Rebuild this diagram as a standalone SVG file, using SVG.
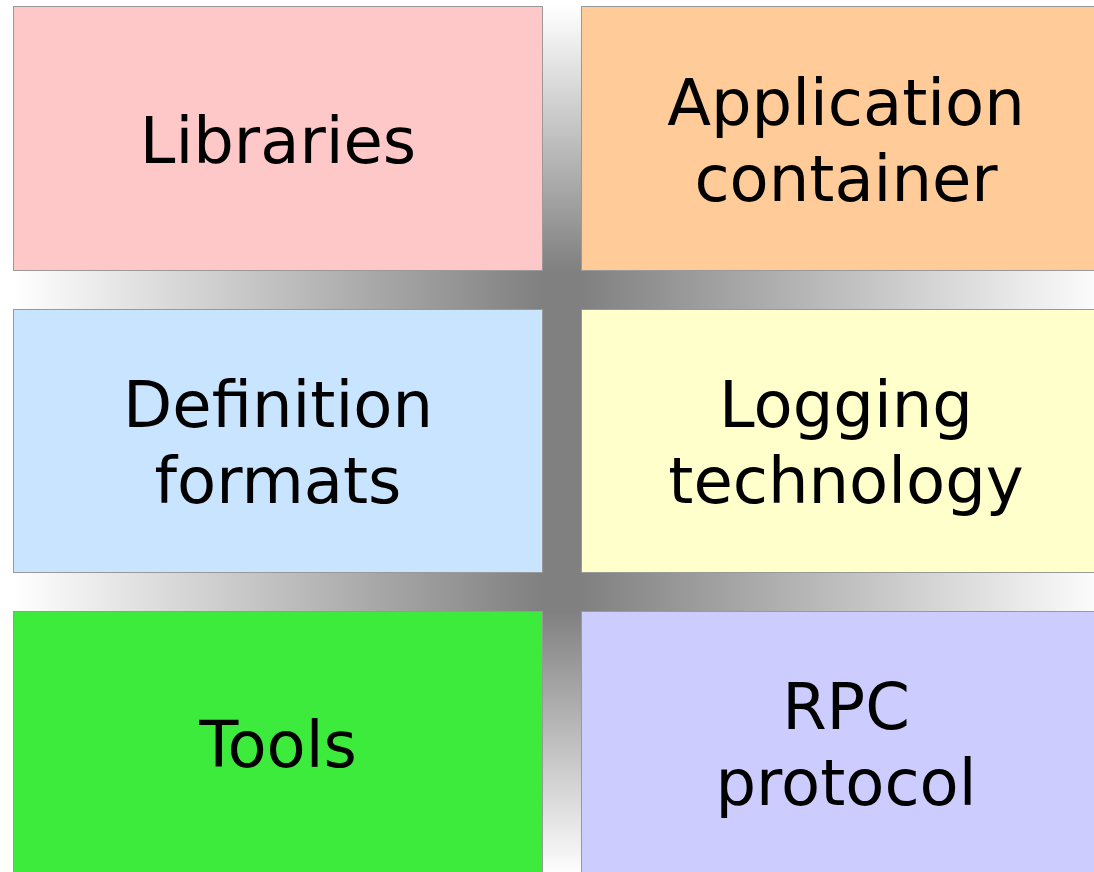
<svg xmlns="http://www.w3.org/2000/svg" width="1094" height="872" viewBox="0 0 1094 872">
<defs>
<linearGradient id="gv" gradientUnits="userSpaceOnUse" x1="0" y1="6" x2="0" y2="876">
<stop offset="0" stop-color="#ffffff"/>
<stop offset="0.3046" stop-color="#808080"/>
<stop offset="0.6954" stop-color="#808080"/>
<stop offset="1" stop-color="#ffffff"/>
</linearGradient>
<linearGradient id="gh" gradientUnits="userSpaceOnUse" x1="13" y1="0" x2="1110" y2="0">
<stop offset="0" stop-color="#ffffff"/>
<stop offset="0.4822" stop-color="#808080"/>
<stop offset="0.5178" stop-color="#808080"/>
<stop offset="1" stop-color="#ffffff"/>
</linearGradient>
</defs>
<style>
.box{stroke:#999999;stroke-width:1}
.lbl{font-family:"DejaVu Sans","Verdana",sans-serif;font-size:64px;fill:#000000;text-anchor:middle}
</style>
<rect width="1094" height="872" fill="#ffffff"/>
<g id="bands">
<rect x="542" y="6" width="39" height="870" fill="url(#gv)"/>
<rect x="13" y="271" width="1097" height="38" fill="url(#gh)"/>
<rect x="13" y="573" width="1097" height="38" fill="url(#gh)"/>
</g>
<g id="libraries">
<rect class="box" x="13.5" y="6.5" width="529" height="264" fill="#ffc8c8"/>
<text class="lbl" x="278" y="163">Libraries</text>
</g>
<g id="application-container">
<rect class="box" x="581.5" y="6.5" width="529" height="264" fill="#ffcc99"/>
<text class="lbl" x="846" y="125">Application</text>
<text class="lbl" x="846" y="201">container</text>
</g>
<g id="definition-formats">
<rect class="box" x="13.5" y="309.5" width="529" height="263" fill="#c8e4ff"/>
<text class="lbl" x="278" y="427">Definition</text>
<text class="lbl" x="278" y="503">formats</text>
</g>
<g id="logging-technology">
<rect class="box" x="581.5" y="309.5" width="529" height="263" fill="#ffffcc"/>
<text class="lbl" x="846" y="427">Logging</text>
<text class="lbl" x="846" y="503">technology</text>
</g>
<g id="tools">
<rect class="box" x="13.5" y="611.5" width="529" height="265" fill="#3ceb3c"/>
<text class="lbl" x="278" y="767">Tools</text>
</g>
<g id="rpc-protocol">
<rect class="box" x="581.5" y="611.5" width="529" height="265" fill="#ccccff"/>
<text class="lbl" x="846" y="729">RPC</text>
<text class="lbl" x="846" y="805">protocol</text>
</g>
<g id="connectors"/>
</svg>
